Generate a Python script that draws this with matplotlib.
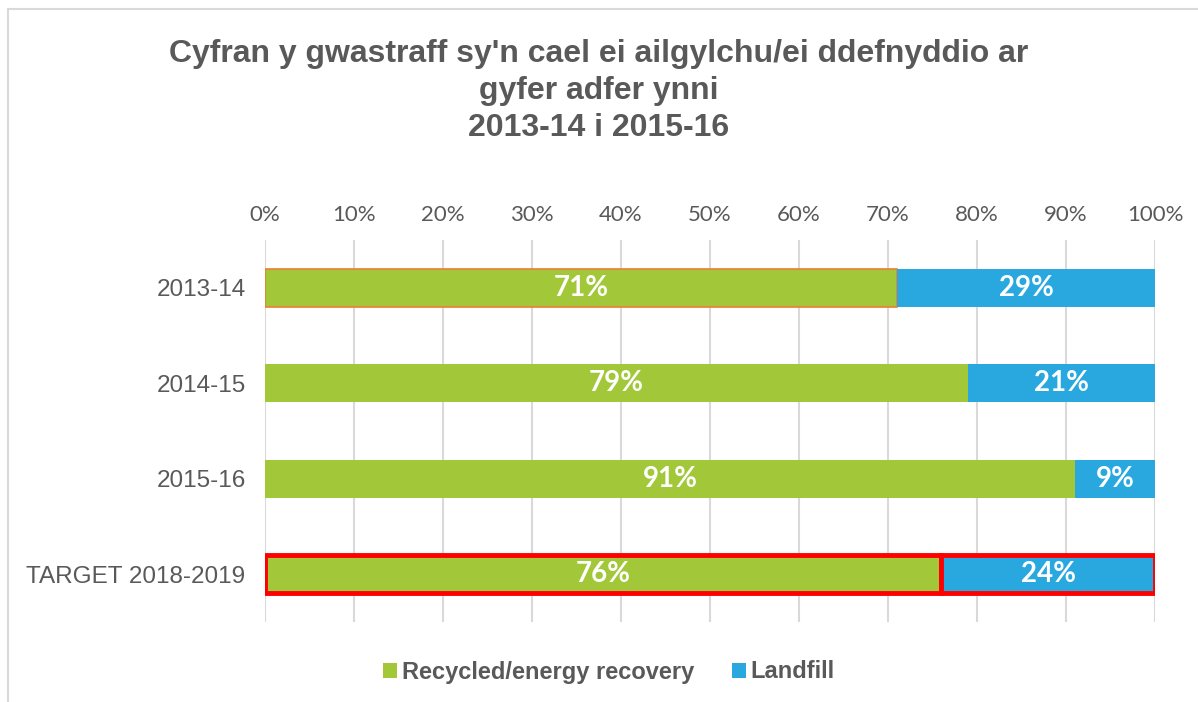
import matplotlib.pyplot as plt
from matplotlib.patches import Rectangle
from matplotlib.ticker import FuncFormatter

# data
categories = ['2013-14', '2014-15', '2015-16', 'TARGET 2018-2019']
recycled = [71, 79, 91, 76]
landfill = [29, 21, 9, 24]
series_names = ['Recycled/energy recovery', 'Landfill']
title = "Cyfran y gwastraff sy'n cael ei ailgylchu/ei ddefnyddio ar\ngyfer adfer ynni\n2013-14 i 2015-16"

green = '#A2C739'
blue = '#29A8E0'
grey = '#595959'

fig = plt.figure(figsize=(11.98, 7.02), dpi=100)
ax = fig.add_axes([265/1198, 1 - 622/702, 890/1198, 382/702])

# outer chart border (partly cropped in the original)
fig.patches.append(Rectangle((8/1198, -0.1), 1.2, 1 - 9/702 + 0.1, transform=fig.transFigure,
                             fill=False, edgecolor='#D9D9D9', lw=1.5))

y = list(range(len(categories)))
h = 0.4
b1 = ax.barh(y, recycled, height=h, color=green, label=series_names[0], zorder=2)
b2 = ax.barh(y, landfill, left=recycled, height=h, color=blue, label=series_names[1], zorder=2)

# highlighted edges
b1[0].set_edgecolor('#ED7D31')
b1[0].set_linewidth(1.2)
for bar in (b1[3], b2[3]):
    bar.set_edgecolor('#FF0000')
    bar.set_linewidth(3.5)
    bar.set_zorder(3)

for i in y:
    ax.text(recycled[i] / 2, i, f'{recycled[i]}%', ha='center', va='center',
            color='white', fontsize=20, fontweight='bold', family='Lato', zorder=4)
    ax.text(recycled[i] + landfill[i] / 2, i, f'{landfill[i]}%', ha='center', va='center',
            color='white', fontsize=20, fontweight='bold', family='Lato', zorder=4)

ax.set_xlim(0, 100)
ax.set_ylim(3.5, -0.5)
ax.set_xticks(range(0, 101, 10))
ax.xaxis.set_major_formatter(FuncFormatter(lambda v, p: f'{int(v)}%'))
ax.xaxis.tick_top()
ax.tick_params(axis='x', length=0, pad=11, labelsize=16, labelcolor=grey)
for lab in ax.get_xticklabels():
    lab.set_family('Lato')
ax.set_yticks(y)
ax.set_yticklabels(categories, fontsize=17.5, color=grey, family='Liberation Sans')
ax.tick_params(axis='y', length=0, pad=14)
ax.grid(axis='x', color='#D9D9D9', lw=1.5, zorder=0)
ax.set_axisbelow(True)
for s in ax.spines.values():
    s.set_visible(False)

fig.text(0.5, 1 - 91/702, title, ha='center', va='center', fontsize=23, fontweight='bold',
         color=grey, family='Liberation Sans', linespacing=1.3)

leg = fig.legend(handles=[b1, b2], loc='center', bbox_to_anchor=(0.508, 1 - 672/702), ncol=2,
                 frameon=False, prop={'family': 'Liberation Sans', 'weight': 'bold', 'size': 17},
                 handlelength=0.6, handleheight=0.6, handletextpad=0.2, columnspacing=1.6)
for t in leg.get_texts():
    t.set_color(grey)
for hnd in leg.legend_handles:
    hnd.set_edgecolor('none')
    hnd.set_linewidth(0)

fig.savefig('out.png', dpi=100)
